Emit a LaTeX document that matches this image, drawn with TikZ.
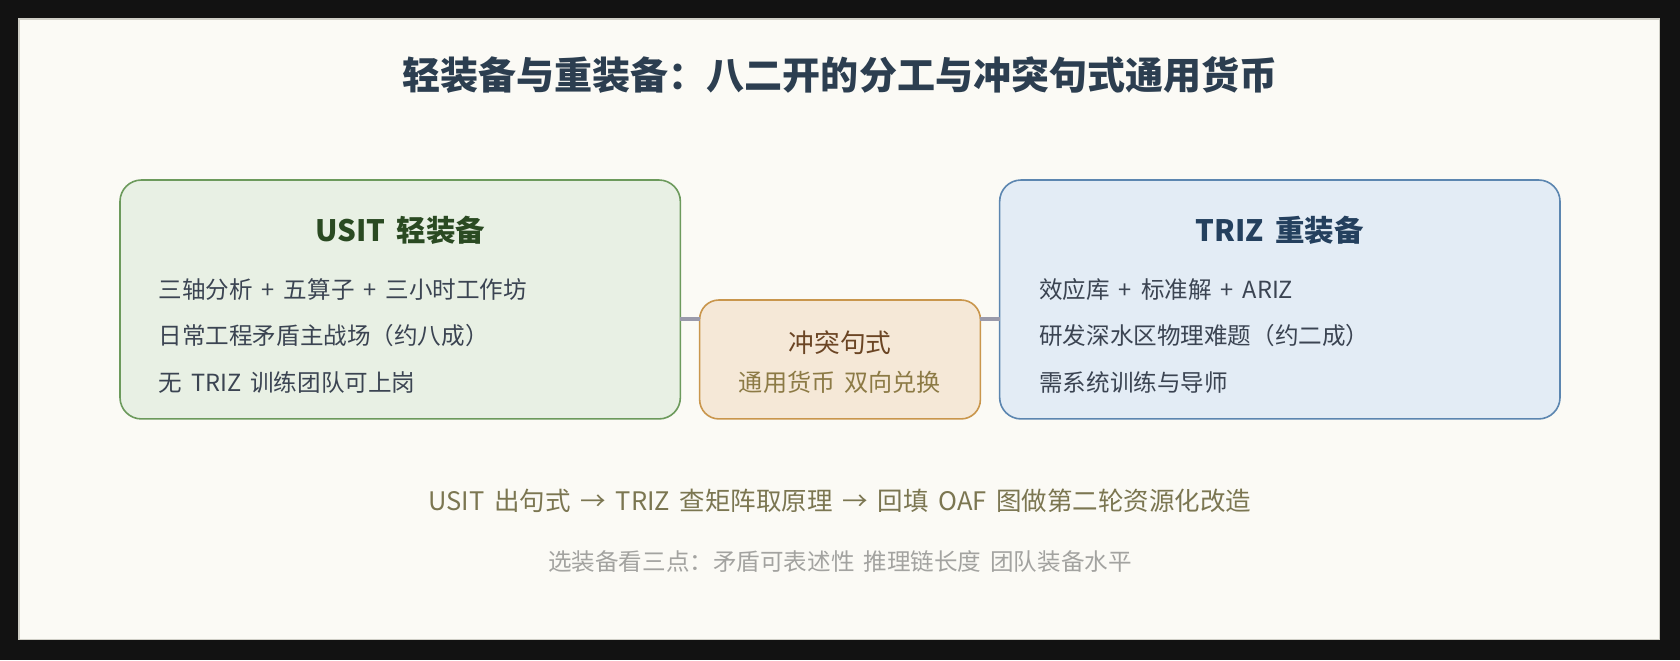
\documentclass[tikz,border=0pt]{standalone}
\usepackage{fontspec}
\setmainfont{Noto Sans CJK SC}[WordSpace=1.7]
\usetikzlibrary{backgrounds}
\definecolor{panelbg}{HTML}{FBFAF5}
\definecolor{panelrule}{HTML}{CFCEC6}
\definecolor{titleink}{HTML}{2C3E50}
\definecolor{bodyink}{HTML}{3B4452}
\definecolor{usitfill}{HTML}{E8F0E4}
\definecolor{usitrule}{HTML}{6C9A5C}
\definecolor{usitink}{HTML}{2A4A22}
\definecolor{trizfill}{HTML}{E3ECF5}
\definecolor{trizrule}{HTML}{5C86B0}
\definecolor{trizink}{HTML}{24405E}
\definecolor{midfill}{HTML}{F5E8D7}
\definecolor{midrule}{HTML}{C9964C}
\definecolor{midink}{HTML}{6B4524}
\definecolor{midsub}{HTML}{8C7A45}
\definecolor{linkink}{HTML}{9A9AAA}
\definecolor{flowink}{HTML}{7B7651}
\definecolor{noteink}{HTML}{A3A3A0}
\begin{document}
\begin{tikzpicture}[%
      x=1pt, y=-1pt,
      every node/.style={inner sep=0pt, outer sep=0pt},
      kit/.style={rounded corners=20pt, line width=1.5pt, minimum width=523pt,
                  minimum height=223pt},
      kit title/.style={font={\fontsize{27.5}{32}\selectfont\bfseries}},
      kit line/.style={anchor=west, text=bodyink,
                       font={\fontsize{22}{26}\selectfont}},
      link/.style={draw=linkink, line width=3.5pt}
    ]
    \fill[black!93] (0,0) rectangle (1568,616);
    \draw[fill=panelbg, draw=panelrule, line width=1.5pt] (18,18) rectangle (1549,597);
    \node[text=titleink, font={\fontsize{35.5}{42}\selectfont\bfseries}] (P title) at (784,70)
     {轻装备与重装备：八二开的分工与冲突句式通用货币};

    \node[kit, fill=usitfill, draw=usitrule] (L box) at (373.5,279.5) {};
    \node[kit title, text=usitink] (L title) at (373.5,215) {USIT 轻装备};
    \node[kit line] (L one) at (148,270) {三轴分析 + 五算子 + 三小时工作坊};
    \node[kit line] (L two) at (148,313) {日常工程矛盾主战场（约八成）};
    \node[kit line] (L three) at (148,357) {无 TRIZ 训练团队可上岗};

    \node[kit, fill=trizfill, draw=trizrule] (R box) at (1194.5,279.5) {};
    \node[kit title, text=trizink] (R title) at (1194.5,215) {TRIZ 重装备};
    \node[kit line] (R one) at (970,270) {效应库 + 标准解 + ARIZ};
    \node[kit line] (R two) at (970,313) {研发深水区物理难题（约二成）};
    \node[kit line] (R three) at (970,357) {需系统训练与导师};

    \node[rounded corners=18pt, line width=1.5pt, fill=midfill, draw=midrule,
          minimum width=262pt, minimum height=111pt] (M box) at (784,335.5) {};
    \node[text=midink, font={\fontsize{24}{28}\selectfont}] (M title) at (784,320) {冲突句式};
    \node[text=midsub, font={\fontsize{22.5}{26}\selectfont}] (M sub) at (784,357) {通用货币 双向兑换};

    \coordinate (P link) at (0,298);
    \draw[link] (L box.east |- P link) -- (M box.west |- P link);
    \draw[link] (M box.east |- P link) -- (R box.west |- P link);

    \node[text=flowink, font={\fontsize{23.8}{28}\selectfont}] (P flow) at (784,467)
     {USIT 出句式 → TRIZ 查矩阵取原理 → 回填 OAF 图做第二轮资源化改造};
    \node[text=noteink, font={\fontsize{22}{26}\selectfont}] (P note) at (784,524)
     {选装备看三点：矛盾可表述性 推理链长度 团队装备水平};
   \end{tikzpicture}
\end{document}
